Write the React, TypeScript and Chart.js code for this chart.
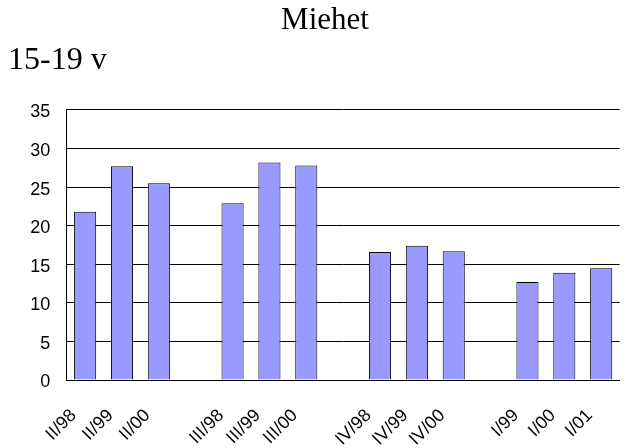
import React, { useEffect, useRef } from 'react';
import { Chart, registerables } from 'chart.js';

Chart.register(...registerables);

const categories = ['II/98', 'II/99', 'II/00', '', 'III/98', 'III/99', 'III/00', '', 'IV/98', 'IV/99', 'IV/00', '', 'I/99', 'I/00', 'I/01'];
const values = [21.8, 27.7, 25.5, null, 22.9, 28.2, 27.8, null, 16.6, 17.4, 16.7, null, 12.7, 13.9, 14.5];
const yTicks = [0, 5, 10, 15, 20, 25, 30, 35];
const titleText = 'Miehet';
const subtitleText = '15-19 v';

const serif = "'Liberation Serif', 'Times New Roman', Times, serif";
const sans = "'Liberation Sans', Arial, Helvetica, sans-serif";

export default function App() {
  const ref = useRef<HTMLCanvasElement | null>(null);

  useEffect(() => {
    if (!ref.current) return;
    const chart = new Chart(ref.current, {
      type: 'bar',
      data: {
        labels: categories,
        datasets: [
          {
            data: values,
            backgroundColor: '#9999FF',
            borderColor: '#000000',
            borderWidth: 1,
            barPercentage: 0.6,
            categoryPercentage: 1,
          },
        ],
      },
      options: {
        responsive: false,
        animation: false,
        devicePixelRatio: 1,
        layout: { padding: { left: 8, right: 0, top: 0, bottom: 0 } },
        plugins: {
          legend: { display: false },
          tooltip: { enabled: false },
          title: {
            display: true,
            text: titleText,
            color: '#000',
            align: 'center',
            font: { family: serif, size: 31, weight: 'normal' },
            padding: { top: 2.6, bottom: 1 },
          },
          subtitle: {
            display: true,
            text: subtitleText,
            color: '#000',
            align: 'start',
            font: { family: serif, size: 32, weight: 'normal' },
            padding: { top: 0.9, bottom: 29.9 },
          },
        },
        scales: {
          x: {
            grid: { display: false, drawTicks: false },
            border: { display: true, color: '#000', width: 1 },
            ticks: {
              color: '#000',
              font: { family: sans, size: 18 },
              minRotation: 45,
              maxRotation: 45,
              autoSkip: false,
              padding: 25,
              labelOffset: -11.5,
            },
            afterFit: (s: any) => {
              s.height = 68;
            },
          },
          y: {
            min: 0,
            max: 35,
            grid: { display: true, color: '#000', lineWidth: 1, drawTicks: false },
            border: { display: true, color: '#000', width: 1 },
            ticks: {
              color: '#000',
              font: { family: sans, size: 18 },
              padding: 16.5,
              labelOffset: 2.4,
            },
            afterBuildTicks: (s: any) => {
              s.ticks = yTicks.map((v) => ({ value: v }));
            },
            afterFit: (s: any) => {
              s.width = 58.7;
            },
          },
          y2: {
            position: 'right',
            display: true,
            grid: { display: false, drawTicks: false },
            border: { display: false },
            ticks: { display: false },
            afterFit: (s: any) => {
              s.width = 16.5;
            },
          },
        },
      },
    });
    return () => chart.destroy();
  }, []);

  return (
    <div
      style={{
        position: 'absolute',
        left: 0,
        top: 0,
        width: 625,
        height: 448,
        overflow: 'hidden',
        background: '#fff',
      }}
    >
      <canvas ref={ref} width={642} height={448} style={{ display: 'block' }} />
    </div>
  );
}
